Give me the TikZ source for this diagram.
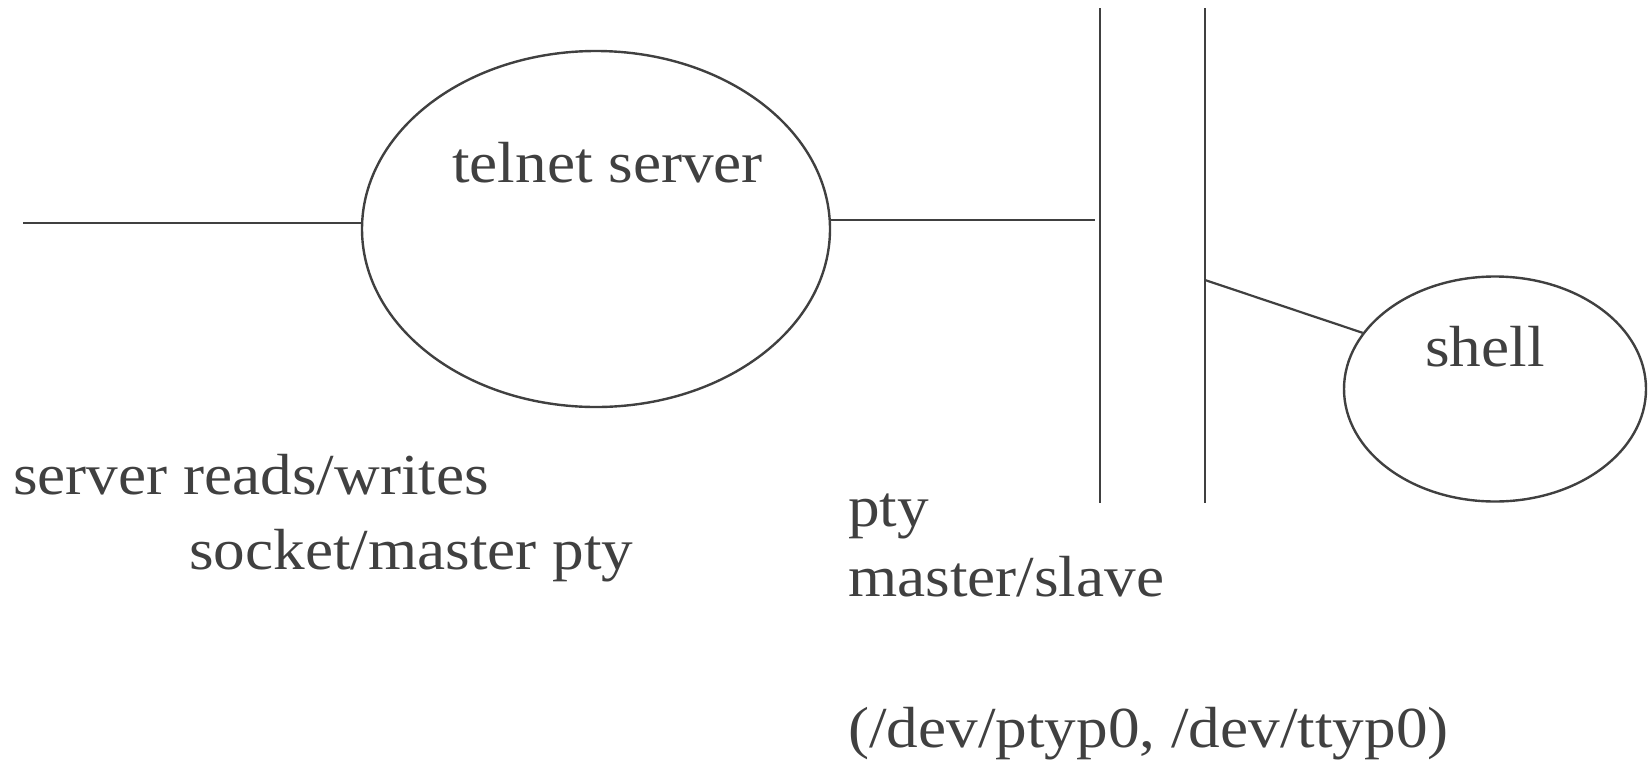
\documentclass[tikz,border=0pt]{standalone}
\usepackage{fontspec}
\setmainfont{Liberation Serif}[FakeStretch=1.09]
\usetikzlibrary{shapes.geometric}
\definecolor{ink}{HTML}{404040}
\begin{document}
\begin{tikzpicture}[x=1pt,y=-1pt,
  wire/.style={draw=ink,line width=2.2pt},
  blob/.style={draw=ink,line width=2.4pt,ellipse,inner sep=0pt},
  lbl/.style={text=ink,anchor=base west,inner sep=0pt,font=\fontsize{58}{68}\selectfont}]
\useasboundingbox (0,0) rectangle (1649,764);
% shapes
\node[blob,minimum width=468pt,minimum height=356pt] (tel) at (596,229) {};
\node[blob,minimum width=302pt,minimum height=225pt] (sh) at (1495,389) {};
% pty bars
\coordinate (m1) at (1100,8);
\coordinate (m2) at (1100,503);
\coordinate (s1) at (1205,8);
\coordinate (s2) at (1205,503);
\draw[wire] (m1) -- (m2);
\draw[wire] (s1) -- (s2);
% connectors
\coordinate (netend) at (23,223);
\coordinate (mjoin) at (1095,220);
\coordinate (sjoin) at (1205,280);
\draw[wire] (netend) -- (netend -| tel.west);
\draw[wire] (tel.east |- mjoin) -- (mjoin);
\draw[wire] (sjoin) -- (sh.157);
% labels
\node[lbl] (tlab) at (452,182) {telnet server};
\node[lbl] (slab) at (1425,366) {shell};
\node[lbl] (srw) at (13,494) {server reads/writes};
\node[lbl] (smp) at (189,569) {socket/master pty};
\node[lbl] (pty) at (848,526) {pty};
\node[lbl] (ms) at (848,596) {master/slave};
\node[lbl] (dev) at (848,747) {(/dev/ptyp0, /dev/ttyp0)};
\end{tikzpicture}
\end{document}
